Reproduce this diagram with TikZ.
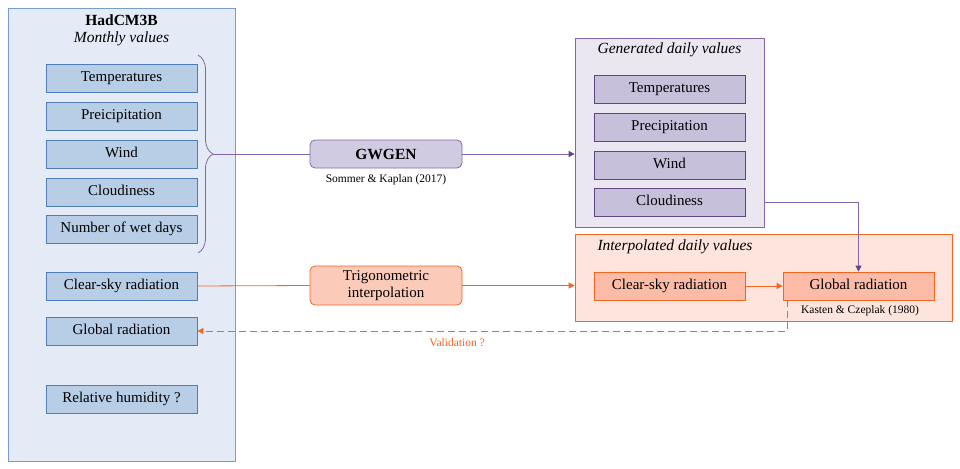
\documentclass[tikz,border=0pt]{standalone}
\usepackage{fontspec}
\setmainfont{Liberation Serif}
\usetikzlibrary{arrows.meta,decorations.pathreplacing}

\definecolor{hadfill}{HTML}{E4EBF6}
\definecolor{hadline}{HTML}{7B9DCB}
\definecolor{varfill}{HTML}{B8CDE6}
\definecolor{varline}{HTML}{4F7DB5}
\definecolor{purpline}{HTML}{8466A8}
\definecolor{purpdark}{HTML}{5F4585}
\definecolor{genfill}{HTML}{EAE7F1}
\definecolor{genbox}{HTML}{C7C0DA}
\definecolor{gwfill}{HTML}{D1CBE2}
\definecolor{orline}{HTML}{F26522}
\definecolor{intfill}{HTML}{FDE4DC}
\definecolor{intbox}{HTML}{FBBBA6}
\definecolor{trigfill}{HTML}{FCCAB9}

\tikzset{
  panel/.style={draw,line width=0.8pt,inner sep=0pt},
  var/.style={draw,line width=0.8pt,fill=varfill,draw=varline,minimum width=151pt,minimum height=28pt,inner sep=0pt,text height=10.5pt,text depth=3.5pt,font=\fontsize{15}{17}\selectfont},
  genvar/.style={var,fill=genbox,draw=purpdark},
  intvar/.style={var,fill=intbox,draw=orline},
  method/.style={draw,line width=0.8pt,rounded corners=5pt,minimum width=152pt,inner sep=0pt,align=center,font=\fontsize{15}{16.5}\selectfont},
  ptitle/.style={font=\fontsize{15.5}{17}\selectfont\itshape},
  cite/.style={font=\fontsize{11.5}{13}\selectfont},
  tip/.style={-{Triangle[length=6pt,width=6pt]}},
}

\begin{document}
\begin{tikzpicture}[x=1pt,y=-1pt,line width=0.8pt]
  \useasboundingbox (0,0) rectangle (960,468);

  % HadCM3B monthly panel
  \node[panel,fill=hadfill,draw=hadline,minimum width=227pt,minimum height=453pt] (had) at (121.5,234.5) {};
  \node[font=\fontsize{15.5}{17}\selectfont\bfseries] (hadT) at (121.5,20) {HadCM3B};
  \node[ptitle] (hadS) at (121.5,39) {Monthly values};
  \node[var] (tM) at (121.5,78) {Temperatures};
  \node[var] (pM) at (121.5,116) {Preicipitation};
  \node[var] (wM) at (121.5,154) {Wind};
  \node[var] (cM) at (121.5,192) {Cloudiness};
  \node[var] (nM) at (121.5,229) {Number of wet days};
  \node[var] (csM) at (121.5,286) {Clear-sky radiation};
  \node[var] (globM) at (121.5,331) {Global radiation};
  \node[var] (rhM) at (121.5,399) {Relative humidity ?};

  % generated daily values
  \node[panel,fill=genfill,draw=purpline,minimum width=189pt,minimum height=189pt] (gen) at (669.5,132.5) {};
  \node[ptitle] (genT) at (669.5,50) {Generated daily values};
  \node[genvar] (tG) at (669.5,89) {Temperatures};
  \node[genvar] (pG) at (669.5,127) {Precipitation};
  \node[genvar] (wG) at (669.5,165) {Wind};
  \node[genvar] (cG) at (669.5,202) {Cloudiness};

  % interpolated daily values
  \node[panel,fill=intfill,draw=orline,minimum width=377pt,minimum height=87pt] (interp) at (763.5,277.5) {};
  \node[ptitle] (intT) at (675,247) {Interpolated daily values};
  \node[intvar] (csI) at (669.5,286) {Clear-sky radiation};
  \node[intvar] (globI) at (858.5,286) {Global radiation};
  \node[cite] (kasten) at (860,311) {Kasten \& Czeplak (1980)};

  % methods
  \node[method,fill=gwfill,draw=purpline,minimum height=28pt,font=\fontsize{15.5}{17}\selectfont\bfseries] (gwgen) at (386,154) {GWGEN};
  \node[cite] (sommer) at (386,180) {Sommer \& Kaplan (2017)};
  \node[method,fill=trigfill,draw=orline,minimum height=39pt] (trig) at (386,285.5) {Trigonometric\\interpolation};

  % brace and connectors
  \draw[purpline,decorate,decoration={brace,amplitude=15pt}] (198,55) -- (198,253);
  \coordinate (brTip) at (213,154);
  \draw[purpline] (brTip) -- (gwgen.west);
  \draw[purpline,arrows={-{Triangle[length=6pt,width=6pt,color=purpdark]}}] (gwgen.east) -- (gwgen.east -| gen.west);
  \draw[purpline,arrows={-{Triangle[length=6pt,width=6pt,color=purpdark]}}] (cG.east -| gen.east) -| (globI.north);
  \draw[orline] (csM.east) -- (trig.west);
  \draw[orline,tip] (trig.east) -- (trig.east -| interp.west);
  \draw[orline,tip] (csI.east) -- (globI.west);
  \draw[orline,line width=1pt,tip,dash pattern=on 7pt off 4pt] ([xshift=5pt]globI.south west) |- (globM.east)
    node[pos=0.78,below=4pt,cite,text=orline] {Validation ?};
\end{tikzpicture}
\end{document}
